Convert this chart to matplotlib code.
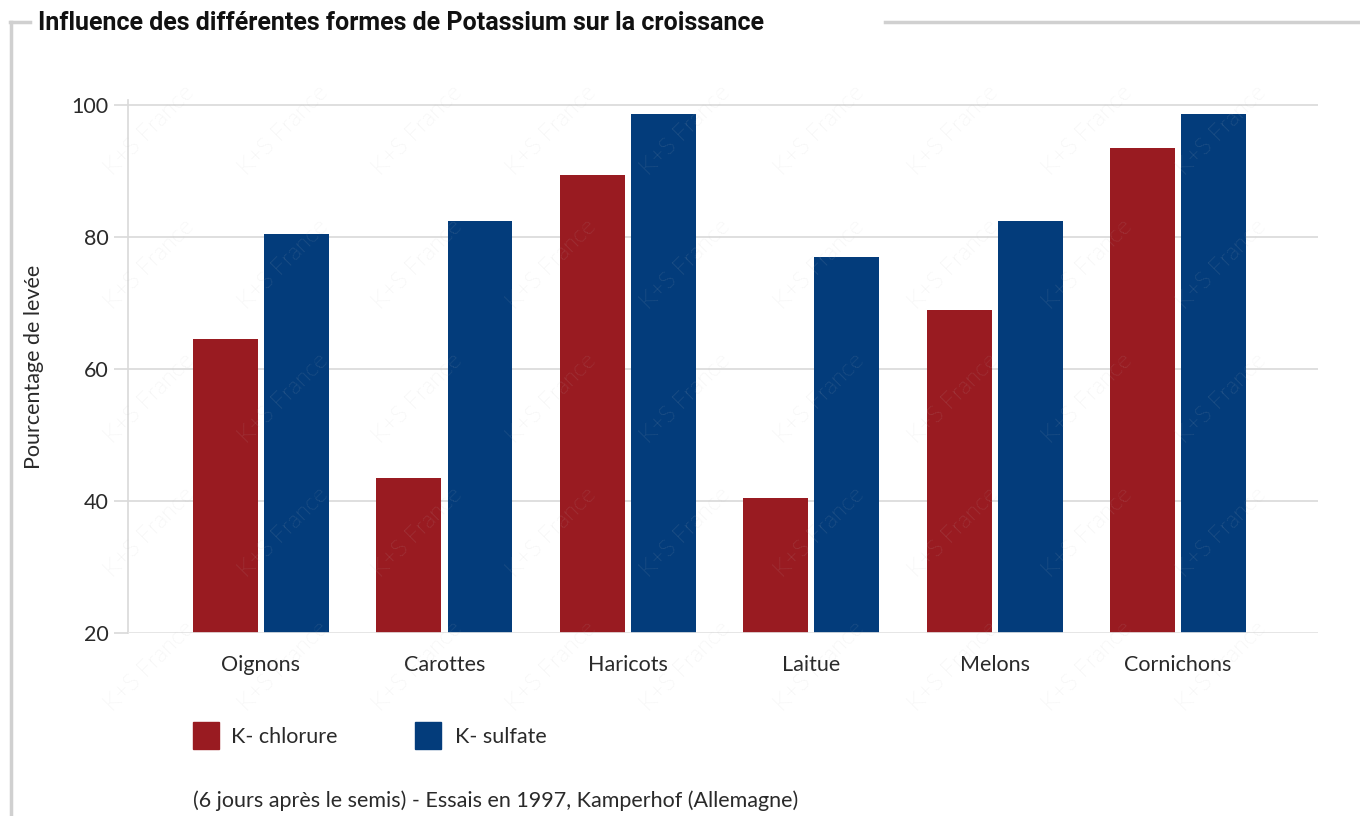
import numpy as np
import matplotlib
matplotlib.use('Agg')
import matplotlib.pyplot as plt
from matplotlib.patches import Rectangle
from matplotlib.lines import Line2D

categories = ['Oignons', 'Carottes', 'Haricots', 'Laitue', 'Melons', 'Cornichons']
k_chlorure = [64.5, 43.5, 89.5, 40.5, 69, 93.5]
k_sulfate = [80.5, 82.5, 98.7, 77, 82.5, 98.7]
series_names = ['K- chlorure', 'K- sulfate']
y_ticks = [20, 40, 60, 80, 100]

RED = '#991b21'
BLUE = '#033c7b'
GRID = '#d9d9d9'
TXT = '#2a2a2a'
FONT = 'Lato'

fig = plt.figure(figsize=(13.6, 8.16), dpi=100)
W, H = 1360, 816
ax = fig.add_axes([128 / W, 1 - 633 / H, (1318 - 128) / W, (633 - 100) / H])

x = np.arange(len(categories))
bw, off = 0.354, 0.194
ax.bar(x - off, np.array(k_chlorure) - 20, bw, bottom=20, color=RED, zorder=2)
ax.bar(x + off, np.array(k_sulfate) - 20, bw, bottom=20, color=BLUE, zorder=2)

ax.set_xlim(-0.725, 5.763)
ax.set_ylim(20, 100.8)
ax.set_yticks(y_ticks)
ax.set_yticklabels([str(v) for v in y_ticks], fontsize=15.5, color=TXT, family=FONT)
ax.set_xticks(x)
ax.set_xticklabels(categories, fontsize=15.5, color=TXT, family=FONT)
ax.tick_params(axis='y', length=10, color=GRID, width=1.2, pad=4)
ax.tick_params(axis='x', length=0, pad=16)
ax.yaxis.grid(True, color=GRID, lw=1.2, zorder=1)
ax.set_axisbelow(True)
for s in ['top', 'right', 'bottom']:
    ax.spines[s].set_visible(False)
ax.spines['left'].set_color(GRID)
ax.spines['left'].set_linewidth(1.2)
ax.axhline(20, color='#e8e8e8', lw=1.2, zorder=3)
ax.set_ylabel('Pourcentage de levée', fontsize=15.5, color=TXT, family=FONT)
ax.yaxis.set_label_coords(-0.071, 0.5)

# frame around the chart
fig.add_artist(Line2D([10 / W, 30 / W], [1 - 22 / H] * 2, color='#d0d0d0', lw=2.5))
fig.add_artist(Line2D([885 / W, 1], [1 - 22 / H] * 2, color='#d0d0d0', lw=2.5))
fig.add_artist(Line2D([11 / W] * 2, [1 - 22 / H, 0], color='#d0d0d0', lw=2.5))

fig.text(38 / W, 1 - 23 / H, 'Influence des différentes formes de Potassium sur la croissance',
         fontsize=18, fontweight='bold', family='Roboto', color='#111111', va='center')

# legend
for (lx, tx), name, col in zip([(193, 231), (415, 455)], series_names, [RED, BLUE]):
    fig.add_artist(Rectangle((lx / W, 1 - 749 / H), 26 / W, 27 / H, color=col))
    fig.text(tx / W, 1 - 737 / H, name, fontsize=15.5, color=TXT, family=FONT, va='center')

fig.text(193 / W, 1 - 801 / H, '(6 jours après le semis) - Essais en 1997, Kamperhof (Allemagne)',
         fontsize=15.5, color=TXT, family=FONT, va='center')

# watermark (only full copies kept inside the figure)
for i in range(0, 9):
    for j in range(0, 5):
        px = 150 + 134 * i
        py = 130 + 134 * j
        fig.text(px / W, 1 - py / H, 'K+S France', rotation=45, fontsize=17,
                 color='#c0c0c0', alpha=0.38, ha='center', va='center',
                 family=FONT, weight='light', zorder=10)

fig.savefig('out.png', dpi=100)
